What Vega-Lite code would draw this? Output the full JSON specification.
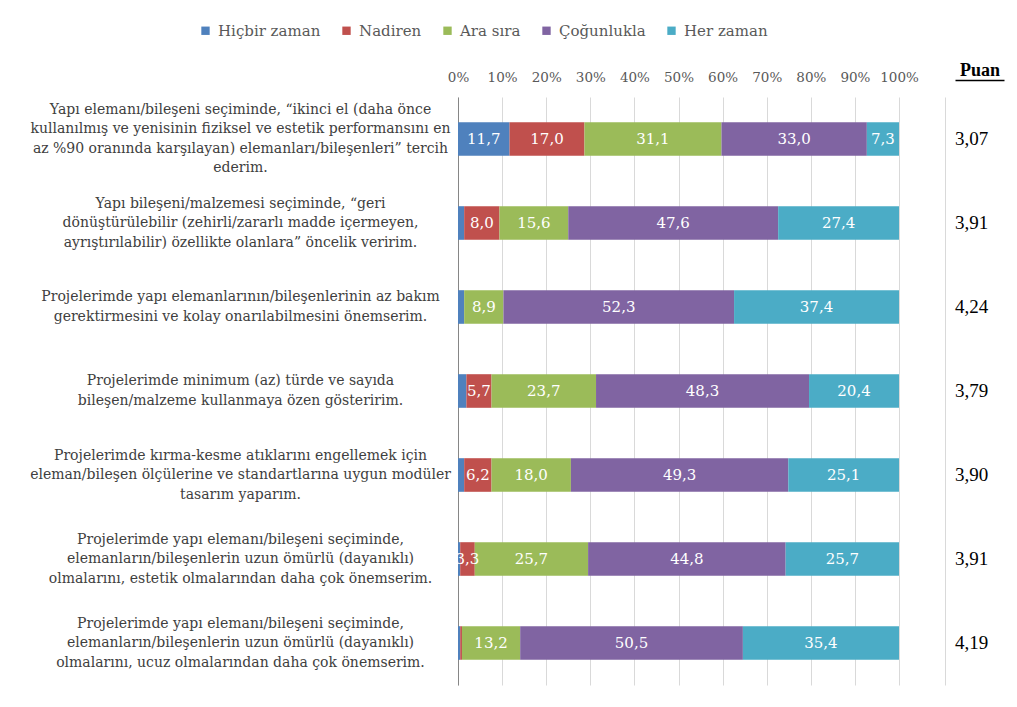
{
  "$schema": "https://vega.github.io/schema/vega-lite/v6.json",
  "padding": {"left": 29, "top": 23, "right": 5, "bottom": 5},
  "background": "white",
  "config": {
    "locale": {"number": {"decimal": ",", "thousands": ".", "grouping": [3], "currency": ["", " TL"]}},
    "view": {"stroke": null},
    "font": "DejaVu Serif"
  },
  "spacing": 26,
  "datasets": {
    "bars": [
      {"q": "Yapı elemanı/bileşeni seçiminde, “ikinci el (daha önce|kullanılmış ve yenisinin fiziksel ve estetik performansını en|az %90 oranında karşılayan) elemanları/bileşenleri” tercih|ederim.", "cat": "Hiçbir zaman", "o": 1, "v": 11.7},
      {"q": "Yapı elemanı/bileşeni seçiminde, “ikinci el (daha önce|kullanılmış ve yenisinin fiziksel ve estetik performansını en|az %90 oranında karşılayan) elemanları/bileşenleri” tercih|ederim.", "cat": "Nadiren", "o": 2, "v": 17.0},
      {"q": "Yapı elemanı/bileşeni seçiminde, “ikinci el (daha önce|kullanılmış ve yenisinin fiziksel ve estetik performansını en|az %90 oranında karşılayan) elemanları/bileşenleri” tercih|ederim.", "cat": "Ara sıra", "o": 3, "v": 31.1},
      {"q": "Yapı elemanı/bileşeni seçiminde, “ikinci el (daha önce|kullanılmış ve yenisinin fiziksel ve estetik performansını en|az %90 oranında karşılayan) elemanları/bileşenleri” tercih|ederim.", "cat": "Çoğunlukla", "o": 4, "v": 33.0},
      {"q": "Yapı elemanı/bileşeni seçiminde, “ikinci el (daha önce|kullanılmış ve yenisinin fiziksel ve estetik performansını en|az %90 oranında karşılayan) elemanları/bileşenleri” tercih|ederim.", "cat": "Her zaman", "o": 5, "v": 7.3},
      {"q": "Yapı bileşeni/malzemesi seçiminde, “geri|dönüştürülebilir (zehirli/zararlı madde içermeyen,|ayrıştırılabilir) özellikte olanlara” öncelik veririm.", "cat": "Hiçbir zaman", "o": 1, "v": 1.4},
      {"q": "Yapı bileşeni/malzemesi seçiminde, “geri|dönüştürülebilir (zehirli/zararlı madde içermeyen,|ayrıştırılabilir) özellikte olanlara” öncelik veririm.", "cat": "Nadiren", "o": 2, "v": 8.0},
      {"q": "Yapı bileşeni/malzemesi seçiminde, “geri|dönüştürülebilir (zehirli/zararlı madde içermeyen,|ayrıştırılabilir) özellikte olanlara” öncelik veririm.", "cat": "Ara sıra", "o": 3, "v": 15.6},
      {"q": "Yapı bileşeni/malzemesi seçiminde, “geri|dönüştürülebilir (zehirli/zararlı madde içermeyen,|ayrıştırılabilir) özellikte olanlara” öncelik veririm.", "cat": "Çoğunlukla", "o": 4, "v": 47.6},
      {"q": "Yapı bileşeni/malzemesi seçiminde, “geri|dönüştürülebilir (zehirli/zararlı madde içermeyen,|ayrıştırılabilir) özellikte olanlara” öncelik veririm.", "cat": "Her zaman", "o": 5, "v": 27.4},
      {"q": "Projelerimde yapı elemanlarının/bileşenlerinin az bakım|gerektirmesini ve kolay onarılabilmesini önemserim.", "cat": "Hiçbir zaman", "o": 1, "v": 1.4},
      {"q": "Projelerimde yapı elemanlarının/bileşenlerinin az bakım|gerektirmesini ve kolay onarılabilmesini önemserim.", "cat": "Nadiren", "o": 2, "v": 0},
      {"q": "Projelerimde yapı elemanlarının/bileşenlerinin az bakım|gerektirmesini ve kolay onarılabilmesini önemserim.", "cat": "Ara sıra", "o": 3, "v": 8.9},
      {"q": "Projelerimde yapı elemanlarının/bileşenlerinin az bakım|gerektirmesini ve kolay onarılabilmesini önemserim.", "cat": "Çoğunlukla", "o": 4, "v": 52.3},
      {"q": "Projelerimde yapı elemanlarının/bileşenlerinin az bakım|gerektirmesini ve kolay onarılabilmesini önemserim.", "cat": "Her zaman", "o": 5, "v": 37.4},
      {"q": "Projelerimde minimum (az) türde ve sayıda|bileşen/malzeme kullanmaya özen gösteririm.", "cat": "Hiçbir zaman", "o": 1, "v": 1.9},
      {"q": "Projelerimde minimum (az) türde ve sayıda|bileşen/malzeme kullanmaya özen gösteririm.", "cat": "Nadiren", "o": 2, "v": 5.7},
      {"q": "Projelerimde minimum (az) türde ve sayıda|bileşen/malzeme kullanmaya özen gösteririm.", "cat": "Ara sıra", "o": 3, "v": 23.7},
      {"q": "Projelerimde minimum (az) türde ve sayıda|bileşen/malzeme kullanmaya özen gösteririm.", "cat": "Çoğunlukla", "o": 4, "v": 48.3},
      {"q": "Projelerimde minimum (az) türde ve sayıda|bileşen/malzeme kullanmaya özen gösteririm.", "cat": "Her zaman", "o": 5, "v": 20.4},
      {"q": "Projelerimde kırma-kesme atıklarını engellemek için|eleman/bileşen ölçülerine ve standartlarına uygun modüler|tasarım yaparım.", "cat": "Hiçbir zaman", "o": 1, "v": 1.4},
      {"q": "Projelerimde kırma-kesme atıklarını engellemek için|eleman/bileşen ölçülerine ve standartlarına uygun modüler|tasarım yaparım.", "cat": "Nadiren", "o": 2, "v": 6.2},
      {"q": "Projelerimde kırma-kesme atıklarını engellemek için|eleman/bileşen ölçülerine ve standartlarına uygun modüler|tasarım yaparım.", "cat": "Ara sıra", "o": 3, "v": 18.0},
      {"q": "Projelerimde kırma-kesme atıklarını engellemek için|eleman/bileşen ölçülerine ve standartlarına uygun modüler|tasarım yaparım.", "cat": "Çoğunlukla", "o": 4, "v": 49.3},
      {"q": "Projelerimde kırma-kesme atıklarını engellemek için|eleman/bileşen ölçülerine ve standartlarına uygun modüler|tasarım yaparım.", "cat": "Her zaman", "o": 5, "v": 25.1},
      {"q": "Projelerimde yapı elemanı/bileşeni seçiminde,|elemanların/bileşenlerin uzun ömürlü (dayanıklı)|olmalarını, estetik olmalarından daha çok önemserim.", "cat": "Hiçbir zaman", "o": 1, "v": 0.5},
      {"q": "Projelerimde yapı elemanı/bileşeni seçiminde,|elemanların/bileşenlerin uzun ömürlü (dayanıklı)|olmalarını, estetik olmalarından daha çok önemserim.", "cat": "Nadiren", "o": 2, "v": 3.3},
      {"q": "Projelerimde yapı elemanı/bileşeni seçiminde,|elemanların/bileşenlerin uzun ömürlü (dayanıklı)|olmalarını, estetik olmalarından daha çok önemserim.", "cat": "Ara sıra", "o": 3, "v": 25.7},
      {"q": "Projelerimde yapı elemanı/bileşeni seçiminde,|elemanların/bileşenlerin uzun ömürlü (dayanıklı)|olmalarını, estetik olmalarından daha çok önemserim.", "cat": "Çoğunlukla", "o": 4, "v": 44.8},
      {"q": "Projelerimde yapı elemanı/bileşeni seçiminde,|elemanların/bileşenlerin uzun ömürlü (dayanıklı)|olmalarını, estetik olmalarından daha çok önemserim.", "cat": "Her zaman", "o": 5, "v": 25.7},
      {"q": "Projelerimde yapı elemanı/bileşeni seçiminde,|elemanların/bileşenlerin uzun ömürlü (dayanıklı)|olmalarını, ucuz olmalarından daha çok önemserim.", "cat": "Hiçbir zaman", "o": 1, "v": 0.5},
      {"q": "Projelerimde yapı elemanı/bileşeni seçiminde,|elemanların/bileşenlerin uzun ömürlü (dayanıklı)|olmalarını, ucuz olmalarından daha çok önemserim.", "cat": "Nadiren", "o": 2, "v": 0.4},
      {"q": "Projelerimde yapı elemanı/bileşeni seçiminde,|elemanların/bileşenlerin uzun ömürlü (dayanıklı)|olmalarını, ucuz olmalarından daha çok önemserim.", "cat": "Ara sıra", "o": 3, "v": 13.2},
      {"q": "Projelerimde yapı elemanı/bileşeni seçiminde,|elemanların/bileşenlerin uzun ömürlü (dayanıklı)|olmalarını, ucuz olmalarından daha çok önemserim.", "cat": "Çoğunlukla", "o": 4, "v": 50.5},
      {"q": "Projelerimde yapı elemanı/bileşeni seçiminde,|elemanların/bileşenlerin uzun ömürlü (dayanıklı)|olmalarını, ucuz olmalarından daha çok önemserim.", "cat": "Her zaman", "o": 5, "v": 35.4}
    ],
    "puan": [
      {"q": "Yapı elemanı/bileşeni seçiminde, “ikinci el (daha önce|kullanılmış ve yenisinin fiziksel ve estetik performansını en|az %90 oranında karşılayan) elemanları/bileşenleri” tercih|ederim.", "puan": 3.07},
      {"q": "Yapı bileşeni/malzemesi seçiminde, “geri|dönüştürülebilir (zehirli/zararlı madde içermeyen,|ayrıştırılabilir) özellikte olanlara” öncelik veririm.", "puan": 3.91},
      {"q": "Projelerimde yapı elemanlarının/bileşenlerinin az bakım|gerektirmesini ve kolay onarılabilmesini önemserim.", "puan": 4.24},
      {"q": "Projelerimde minimum (az) türde ve sayıda|bileşen/malzeme kullanmaya özen gösteririm.", "puan": 3.79},
      {"q": "Projelerimde kırma-kesme atıklarını engellemek için|eleman/bileşen ölçülerine ve standartlarına uygun modüler|tasarım yaparım.", "puan": 3.90},
      {"q": "Projelerimde yapı elemanı/bileşeni seçiminde,|elemanların/bileşenlerin uzun ömürlü (dayanıklı)|olmalarını, estetik olmalarından daha çok önemserim.", "puan": 3.91},
      {"q": "Projelerimde yapı elemanı/bileşeni seçiminde,|elemanların/bileşenlerin uzun ömürlü (dayanıklı)|olmalarını, ucuz olmalarından daha çok önemserim.", "puan": 4.19}
    ]
  },
  "hconcat": [
    {
      "width": 441,
      "height": 588,
      "data": {"name": "bars"},
      "encoding": {
        "y": {
          "field": "q", "type": "nominal", "sort": null,
          "scale": {"paddingInner": 0.6, "paddingOuter": 0.3},
          "axis": {
            "title": null, "ticks": false, "tickSize": 0, "grid": false,
            "domain": true, "domainColor": "#868686",
            "labelAlign": "center", "labelBaseline": "middle", "labelPadding": 218,
            "labelExpr": "split(datum.label, '|')",
            "labelLimit": 600,
            "labelOffset": {"condition": [{"test": "length(split(datum.value,'|')) == 4", "value": -29.25}, {"test": "length(split(datum.value,'|')) == 3", "value": -19.5}], "value": -9.75},
            "labelFont": "DejaVu Serif", "labelFontSize": 14, "labelLineHeight": 19.5,
            "labelColor": "#404040"
          }
        }
      },
      "layer": [
        {
          "mark": {"type": "bar"},
          "encoding": {
            "x": {
              "field": "v", "type": "quantitative", "stack": "normalize",
              "axis": {
                "orient": "top", "title": null, "format": ".0%",
                "values": [0, 0.1, 0.2, 0.3, 0.4, 0.5, 0.6, 0.7, 0.8, 0.9, 1],
                "labelOverlap": false, "labelFlush": false,
                "ticks": false, "domain": false, "grid": true, "gridColor": "#d9d9d9",
                "labelPadding": 13, "labelFont": "DejaVu Serif", "labelFontSize": 13.5,
                "labelColor": "#595959"
              }
            },
            "color": {
              "field": "cat", "type": "nominal",
              "scale": {
                "domain": ["Hiçbir zaman", "Nadiren", "Ara sıra", "Çoğunlukla", "Her zaman"],
                "range": ["#4F81BD", "#C0504D", "#9BBB59", "#8064A2", "#4BACC6"]
              },
              "legend": {
                "orient": "none", "legendX": -260, "legendY": -74, "direction": "horizontal",
                "title": null, "symbolType": "square", "symbolSize": 70, "symbolStrokeWidth": 0,
                "labelFont": "DejaVu Serif", "labelFontSize": 15, "labelColor": "#595959",
                "columnPadding": 18, "labelOffset": 5
              }
            },
            "order": {"field": "o", "type": "quantitative"}
          }
        },
        {
          "mark": {"type": "text", "clip": true, "color": "white", "font": "DejaVu Serif", "fontSize": 15, "baseline": "middle", "align": "center"},
          "encoding": {
            "x": {"field": "v", "type": "quantitative", "stack": "normalize", "bandPosition": 0.5},
            "detail": {"field": "cat", "type": "nominal"},
            "order": {"field": "o", "type": "quantitative"},
            "text": {"condition": {"test": "datum.v < 3", "value": ""}, "field": "v", "type": "quantitative", "format": ".1f"}
          }
        }
      ]
    },
    {
      "width": 49,
      "height": 588,
      "data": {"name": "puan"},
      "mark": {"type": "text", "align": "left", "baseline": "middle", "font": "Liberation Serif", "fontSize": 19, "color": "black"},
      "encoding": {
        "y": {
          "field": "q", "type": "nominal", "sort": null,
          "scale": {"paddingInner": 0.6, "paddingOuter": 0.3},
          "axis": {"labels": false, "ticks": false, "title": null, "grid": false, "domain": true, "domainColor": "#d9d9d9", "offset": 10}
        },
        "x": {
          "datum": 0, "type": "quantitative", "scale": {"domain": [0, 1]},
          "axis": {
            "orient": "top", "labels": false, "ticks": false, "grid": false,
            "domain": true, "domainColor": "black", "domainWidth": 1.5, "offset": 17,
            "title": "Puan", "titleFont": "Liberation Serif", "titleFontSize": 18,
            "titleFontWeight": "bold", "titleColor": "black", "titlePadding": 1
          }
        },
        "text": {"field": "puan", "type": "quantitative", "format": ".2f"}
      }
    }
  ]
}
